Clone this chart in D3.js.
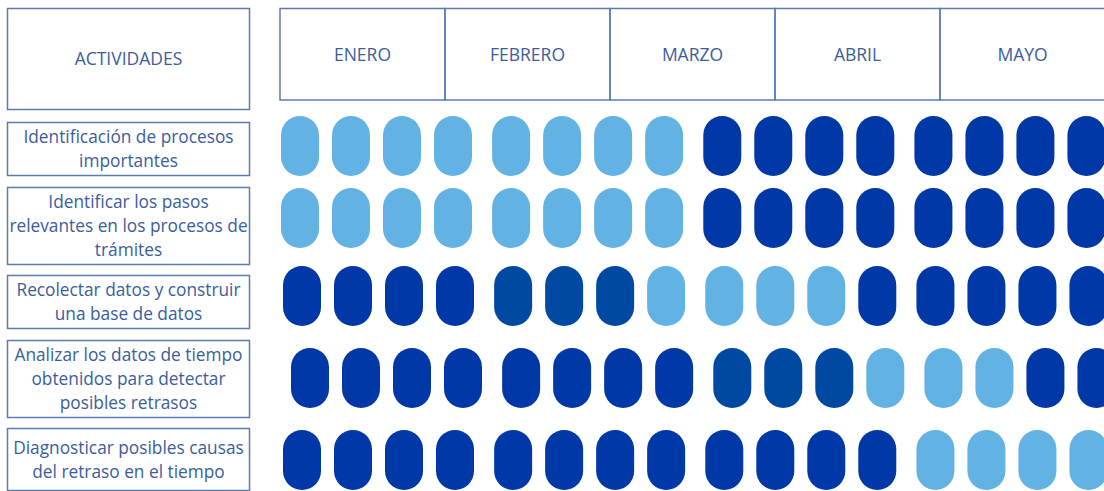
<!DOCTYPE html>
<html>
<head>
  <meta charset="utf-8">
  <title>Cronograma de actividades</title>
  <script src="https://d3js.org/d3.v7.min.js"></script>
  <style>
    body { margin: 0; background: #fff; }
    svg { display: block; }
  </style>
</head>
<body>
  <svg width="1104" height="491"></svg>
  <script>
  // Data
  var headerLabel = "ACTIVIDADES";
  var months = ["ENERO", "FEBRERO", "MARZO", "ABRIL", "MAYO"];
  var activities = [
    ["Identificación de procesos", "importantes"],
    ["Identificar los pasos", "relevantes en los procesos de", "trámites"],
    ["Recolectar datos y construir", "una base de datos"],
    ["Analizar los datos de tiempo", "obtenidos para detectar", "posibles retrasos"],
    ["Diagnosticar posibles causas", "del retraso en el tiempo"]
  ];
  // c = claro, o = oscuro, m = medio
  var row1 = ["c","c","c","c", "c","c","c","c", "o","o","o","o", "o","o","o","o"];
  var row2 = ["c","c","c","c", "c","c","c","c", "o","o","o","o", "o","o","o","o"];
  var row3 = ["o","o","o","o", "m","m","m","c", "c","c","c","o", "o","o","o","o"];
  var row4 = ["o","o","o","o", "o","o","o","o", "m","m","m","c", "c","c","o","o"];
  var row5 = ["o","o","o","o", "o","o","o","o", "o","o","o","o", "c","c","c","c"];
  var rows = [row1, row2, row3, row4, row5];

  // Layout (pixels)
  var boxes = [[122, 175], [187, 264], [275, 328], [340, 417], [428, 490]];
  var pillTop = [116, 188, 266, 348, 430];
  var pillShift = [0, 0, 2, 10, 2];
  var pillW = 38, pillH = 60;

  var svg = d3.select("svg");
  var stroke = "#5b7cb3";
  var textCol = "#3a5d9e";
  var font = "'Open Sans', Lato, sans-serif";
  var fsize = "17.3px";
  var hsize = "17.5px";

  var color = d3.scaleOrdinal()
    .domain(["c", "o", "m"])
    .range(["#62b2e4", "#0038a7", "#0049a2"]);

  // slot -> x, with a small extra gap after every four pills
  var slot = function(i) { return i + Math.floor(i / 4) * 0.14; };
  var x = d3.scaleLinear().domain([0, 1]).range([281, 332]);

  var month = d3.scaleBand().domain(months).range([280, 1105]);

  // header: ACTIVIDADES box
  svg.append("rect")
    .attr("x", 7.5).attr("y", 8.5).attr("width", 242).attr("height", 101)
    .attr("fill", "none").attr("stroke", stroke).attr("stroke-width", 1.5);
  svg.append("text")
    .attr("x", 128.5).attr("y", 60)
    .attr("text-anchor", "middle").attr("dominant-baseline", "middle")
    .style("font-family", font).style("font-size", hsize).style("fill", textCol)
    .text(headerLabel);

  // header: months
  svg.selectAll("rect.month").data(months).enter()
    .append("rect").attr("class", "month")
    .attr("x", function(d) { return month(d); })
    .attr("y", 8.5)
    .attr("width", month.bandwidth())
    .attr("height", 91.5)
    .attr("fill", "none").attr("stroke", stroke).attr("stroke-width", 1.5);
  svg.selectAll("text.month").data(months).enter()
    .append("text").attr("class", "month")
    .attr("x", function(d) { return month(d) + month.bandwidth() / 2; })
    .attr("y", 56)
    .attr("text-anchor", "middle").attr("dominant-baseline", "middle")
    .style("font-family", font).style("font-size", hsize).style("fill", textCol)
    .text(function(d) { return d; });

  // activity boxes and labels
  var act = svg.selectAll("g.act").data(activities).enter()
    .append("g").attr("class", "act");
  act.append("rect")
    .attr("x", 7.5)
    .attr("y", function(d, i) { return boxes[i][0] + 0.5; })
    .attr("width", 242)
    .attr("height", function(d, i) { return boxes[i][1] - boxes[i][0]; })
    .attr("fill", "none").attr("stroke", stroke).attr("stroke-width", 1.5);
  act.each(function(lines, i) {
    var cy = (boxes[i][0] + boxes[i][1]) / 2 + 2;
    var lh = 24;
    d3.select(this).selectAll("text").data(lines).enter()
      .append("text")
      .attr("x", 128.5)
      .attr("y", function(d, j) { return cy + (j - (lines.length - 1) / 2) * lh; })
      .attr("text-anchor", "middle").attr("dominant-baseline", "middle")
      .style("font-family", font).style("font-size", fsize).style("fill", textCol)
      .text(function(d) { return d; });
  });

  // pills
  rows.forEach(function(r, ri) {
    svg.append("g").selectAll("rect").data(r).enter()
      .append("rect")
      .attr("x", function(d, i) { return x(slot(i)) + pillShift[ri]; })
      .attr("y", pillTop[ri])
      .attr("width", pillW)
      .attr("height", pillH)
      .attr("rx", pillW / 2)
      .attr("ry", pillW / 2)
      .attr("fill", function(d) { return color(d); });
  });
  </script>
</body>
</html>
